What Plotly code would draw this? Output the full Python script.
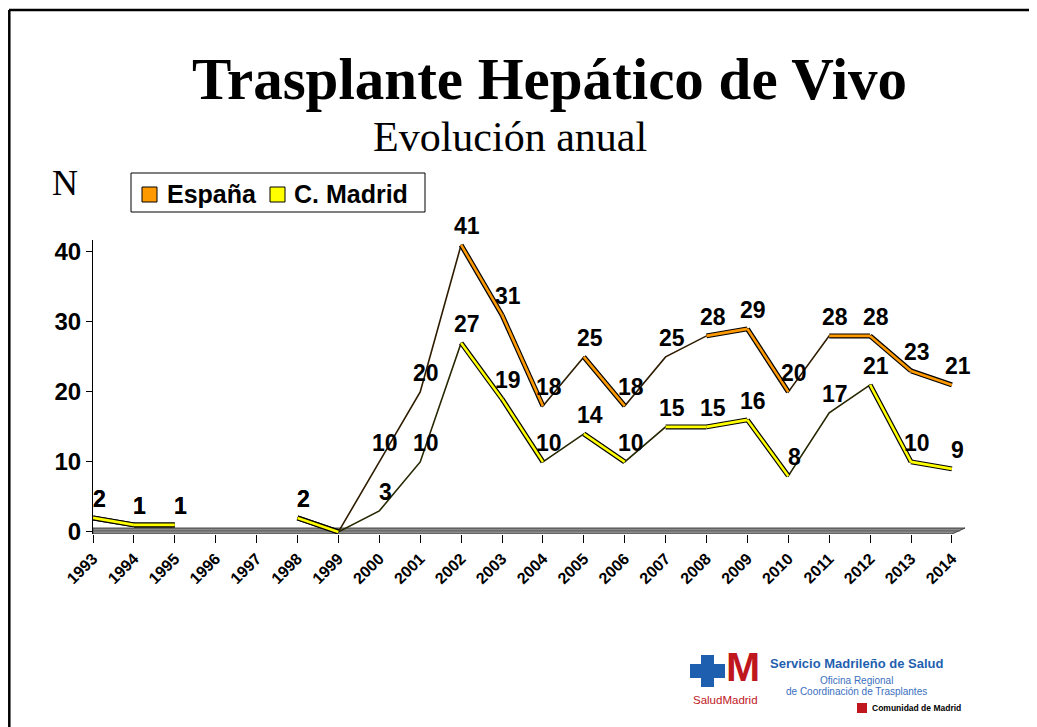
import plotly.graph_objects as go

# ---------------- data ----------------
years = list(range(1993, 2015))
year_labels = [str(y) for y in years]
espana = [2, 1, 1, None, None, 2, 0, 10, 20, 41, 31, 18, 25, 18, 25, 28, 29, 20, 28, 28, 23, 21]
madrid = [2, 1, 1, None, None, 2, 0, 3, 10, 27, 19, 10, 14, 10, 15, 15, 16, 8, 17, 21, 10, 9]
y_ticks = [0, 10, 20, 30, 40]
series_names = ["España", "C. Madrid"]

title_text = "Trasplante Hepático de Vivo"
subtitle_text = "Evolución anual"
y_title = "N"

# ---------------- geometry helpers (page pixel -> paper) ----------------
OFF = 8                      # body margin of the html page
W, H = 1029, 719
L, R, T, B = 85, 72, 232, 193
PW, PH = W - L - R, H - T - B


def xp(px):
    return (px - OFF - L) / PW


def yp(py):
    return (H - B - (py - OFF)) / PH


ORANGE = "#FF9900"
YELLOW = "#FFFF00"
SERIF = "Times New Roman, Liberation Serif, serif"
SANS = "Arial, Liberation Sans, sans-serif"


def segments(xs, ys, keep):
    sx, sy = [], []
    for i in range(len(xs) - 1):
        a, b = ys[i], ys[i + 1]
        if a is None or b is None:
            continue
        if keep(b - a):
            sx += [xs[i], xs[i + 1], None]
            sy += [a, b, None]
    return sx, sy


fig = go.Figure()

for vals, face, dark in [(espana, ORANGE, "#2e1c00"), (madrid, YELLOW, "#262600")]:
    fig.add_trace(go.Scatter(x=years, y=vals, mode="lines", connectgaps=False,
                             line=dict(color=dark, width=1.6), showlegend=False,
                             hoverinfo="skip"))
    sx, sy = segments(years, vals, lambda d: d <= 1)
    fig.add_trace(go.Scatter(x=sx, y=sy, mode="lines", line=dict(color="black", width=5),
                             showlegend=False, hoverinfo="skip"))
    fig.add_trace(go.Scatter(x=sx, y=sy, mode="lines", line=dict(color=face, width=2.6),
                             showlegend=False, hoverinfo="skip"))

annotations = []
for vals in (espana, madrid):
    for x, v in zip(years, vals):
        if v is None or v == 0:
            continue
        annotations.append(dict(x=x, y=v, xref="x", yref="y", text=str(v), showarrow=False,
                                xshift=6, yshift=19,
                                font=dict(family=SANS, size=23, color="black", weight="bold")))

annotations.append(dict(x=xp(549), y=yp(79), xref="paper", yref="paper", text=title_text,
                        showarrow=False, xanchor="center", yanchor="middle",
                        font=dict(family=SERIF, size=59, color="black", weight="bold")))
annotations.append(dict(x=xp(510), y=yp(137), xref="paper", yref="paper", text=subtitle_text,
                        showarrow=False, xanchor="center", yanchor="middle",
                        font=dict(family=SERIF, size=42, color="black")))
annotations.append(dict(x=xp(65), y=yp(183), xref="paper", yref="paper", text=y_title,
                        showarrow=False, xanchor="center", yanchor="middle",
                        font=dict(family=SERIF, size=36, color="black")))

annotations.append(dict(x=xp(165), y=yp(194), xref="paper", yref="paper", text=series_names[0],
                        showarrow=False, xanchor="left", yanchor="middle",
                        font=dict(family=SANS, size=25, color="black", weight="bold")))
annotations.append(dict(x=xp(292), y=yp(194), xref="paper", yref="paper", text=series_names[1],
                        showarrow=False, xanchor="left", yanchor="middle",
                        font=dict(family=SANS, size=25, color="black", weight="bold")))

BLUE = "#1F5FAF"
RED = "#C0161D"
annotations += [
    dict(x=xp(856), y=yp(663), xref="paper", yref="paper", text="Servicio Madrileño de Salud",
         showarrow=False, xanchor="center", yanchor="middle",
         font=dict(family=SANS, size=13, color=BLUE, weight="bold")),
    dict(x=xp(856), y=yp(680), xref="paper", yref="paper", text="Oficina Regional",
         showarrow=False, xanchor="center", yanchor="middle",
         font=dict(family=SANS, size=10, color="#3A6FC0")),
    dict(x=xp(856), y=yp(691), xref="paper", yref="paper", text="de Coordinación de Trasplantes",
         showarrow=False, xanchor="center", yanchor="middle",
         font=dict(family=SANS, size=10, color="#3A6FC0")),
    dict(x=xp(870), y=yp(708), xref="paper", yref="paper", text="Comunidad de Madrid",
         showarrow=False, xanchor="left", yanchor="middle",
         font=dict(family=SANS, size=8.5, color="black", weight="bold")),
    dict(x=xp(725), y=yp(700), xref="paper", yref="paper", text="SaludMadrid",
         showarrow=False, xanchor="center", yanchor="middle",
         font=dict(family=SANS, size=11.5, color=RED)),
    dict(x=xp(743), y=yp(667), xref="paper", yref="paper", text="M", height=32,
         showarrow=False, xanchor="center", yanchor="middle",
         font=dict(family=SANS, size=41, color=RED, weight="bold")),
]

shapes = [
    # frame (top and left edges)
    dict(type="line", xref="paper", yref="paper", x0=xp(9), y0=yp(10), x1=xp(1040), y1=yp(10),
         line=dict(color="black", width=2.5)),
    dict(type="line", xref="paper", yref="paper", x0=xp(9.3), y0=yp(10), x1=xp(9.3), y1=yp(730),
         line=dict(color="black", width=2.5)),
    # 3D floor
    dict(type="path", xref="x", yref="y", layer="below",
         path=f"M {years[0]},-0.3 L {years[-1]},-0.3 L {years[-1] + 0.32},0.55 L {years[0]},0.55 Z",
         fillcolor="#8C8C8C", line=dict(color="#3C3C3C", width=1)),
    dict(type="line", xref="x", yref="y", layer="below", x0=years[0], x1=years[-1] + 0.2,
         y0=0.15, y1=0.15, line=dict(color="#5A5A5A", width=1)),
    # legend box and swatches
    dict(type="rect", xref="paper", yref="paper", x0=xp(131), y0=yp(173), x1=xp(425), y1=yp(212),
         line=dict(color="black", width=1), fillcolor="white"),
    dict(type="rect", xref="paper", yref="paper", x0=xp(142), y0=yp(187), x1=xp(157), y1=yp(202),
         line=dict(color="black", width=1), fillcolor=ORANGE),
    dict(type="rect", xref="paper", yref="paper", x0=xp(270), y0=yp(187), x1=xp(285), y1=yp(202),
         line=dict(color="black", width=1), fillcolor=YELLOW),
    # logo: blue cross
    dict(type="path", xref="paper", yref="paper", fillcolor=BLUE, line=dict(width=0),
         path=" ".join([
             f"M {xp(701)},{yp(655)}", f"L {xp(714)},{yp(655)}", f"L {xp(714)},{yp(664)}",
             f"L {xp(725)},{yp(664)}", f"L {xp(725)},{yp(678)}", f"L {xp(714)},{yp(678)}",
             f"L {xp(714)},{yp(687)}", f"L {xp(701)},{yp(687)}", f"L {xp(701)},{yp(678)}",
             f"L {xp(690)},{yp(678)}", f"L {xp(690)},{yp(664)}", f"L {xp(701)},{yp(664)}", "Z"])),
    dict(type="rect", xref="paper", yref="paper", x0=xp(857), y0=yp(703), x1=xp(867), y1=yp(713),
         line=dict(width=0), fillcolor=RED),
]

fig.update_layout(
    width=W, height=H, autosize=False,
    margin=dict(l=L, r=R, t=T, b=B, pad=0),
    paper_bgcolor="white", plot_bgcolor="white",
    showlegend=False,
    annotations=annotations,
    shapes=shapes,
    xaxis=dict(range=[years[0], years[-1] + 0.32], tickmode="array", tickvals=years,
               ticktext=year_labels, tickangle=-45, ticks="outside", ticklen=8,
               tickcolor="black", showgrid=False, zeroline=False, showline=False,
               tickfont=dict(family=SANS, size=16, color="black", weight="bold")),
    yaxis=dict(range=[-0.3, 41.7], tickmode="array", tickvals=y_ticks, ticks="outside",
               ticklen=6, tickcolor="black", showgrid=False, zeroline=False, showline=True,
               linecolor="black", linewidth=1,
               tickfont=dict(family=SANS, size=24, color="black", weight="bold")),
)

for tr in fig.data:
    tr.cliponaxis = False

fig.write_html("out.html")
